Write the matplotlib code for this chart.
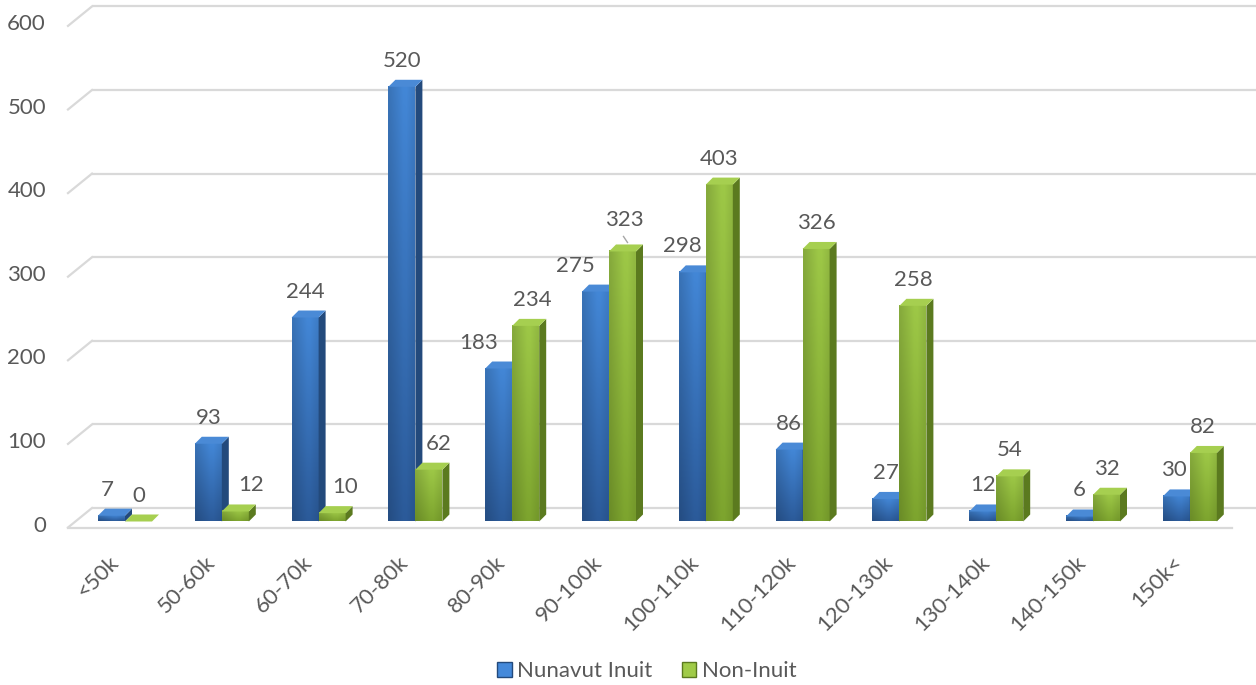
import numpy as np
import matplotlib
matplotlib.use("Agg")
import matplotlib.pyplot as plt
from matplotlib.patches import Polygon, Patch

# ========== 数据 ==========
categories = ["<50k", "50-60k", "60-70k", "70-80k", "80-90k", "90-100k",
              "100-110k", "110-120k", "120-130k", "130-140k", "140-150k", "150k<"]
nunavut_inuit = [7, 93, 244, 520, 183, 275, 298, 86, 27, 12, 6, 30]
non_inuit = [0, 12, 10, 62, 234, 323, 403, 326, 258, 54, 32, 82]
y_ticks = [0, 100, 200, 300, 400, 500, 600]

# ========== 样式 ==========
plt.rcParams['font.family'] = ['Lato', 'DejaVu Sans']
FS = 16
TEXT = "#595959"
GRID = "#D9D9D9"
BLUE = dict(light="#4489DA", dark="#2C5C9C", side="#234A7C", top="#4A8AD6")
GREEN = dict(light="#A0CB48", dark="#7FA72F", side="#5B7A1F", top="#A6CF50")

# 像素 -> 数据 换算 (画布 1256x685)
PX_CAT = 96.8          # 每组的像素宽度
PX_VAL = 0.836         # 每单位数值的像素
X0_PX, BASE_PX = 125, 521.5
W, H = 1256, 685

def px_dx(p):
    return p / PX_CAT

def px_dy(p):
    return p / PX_VAL

BAR_W = px_dx(27)
DEPTH_X, DEPTH_Y = px_dx(7), px_dy(7)

fig = plt.figure(figsize=(12.56, 6.85), dpi=100)
ax = fig.add_axes([0, 0, 1, 1])
ax.axis("off")

# ---- 背景网格 (后墙 + 左侧斜线) ----
back_dy, front_dy = px_dy(13.5), px_dy(-6)
x_front_left, x_back_left = px_dx(68 - X0_PX), px_dx(92 - X0_PX)
x_right = (W - X0_PX) / PX_CAT
for v in y_ticks:
    ax.plot([x_back_left, x_right], [v + back_dy, v + back_dy], color=GRID, lw=1.6, zorder=1,
            solid_capstyle="butt")
    ax.plot([x_front_left, x_back_left], [v + front_dy, v + back_dy], color=GRID, lw=1.6, zorder=1)
    ax.text(px_dx(46 - X0_PX), v + front_dy + px_dy(2), str(v), ha="right", va="center",
            fontsize=FS, color=TEXT)
# 地板前沿
ax.plot([x_front_left, px_dx(1232 - X0_PX)], [front_dy, front_dy], color=GRID, lw=1.6, zorder=1)


def draw_bar(x0, h, c):
    x1 = x0 + BAR_W
    # 正面: 竖向渐变
    grad = np.linspace(0, 1, 64).reshape(-1, 1)
    c1 = np.array(matplotlib.colors.to_rgb(c["light"]))
    c2 = np.array(matplotlib.colors.to_rgb(c["dark"]))
    img = c1 * (1 - grad[..., None]) + c2 * grad[..., None]
    img = np.repeat(img, 8, axis=1)
    # 横向高光
    hx = 1 - 0.12 * np.abs(np.linspace(-1, 1, 8) - 0.3)
    img = np.clip(img * hx[None, :, None], 0, 1)
    if h > 0:
        ax.imshow(img, extent=[x0, x1, 0, h], aspect="auto", origin="upper",
                  interpolation="bilinear", zorder=3)
    # 侧面
    ax.add_patch(Polygon([(x1, 0), (x1 + DEPTH_X, DEPTH_Y), (x1 + DEPTH_X, h + DEPTH_Y), (x1, h)],
                         closed=True, facecolor=c["side"], edgecolor="none", zorder=3))
    # 顶面
    ax.add_patch(Polygon([(x0, h), (x1, h), (x1 + DEPTH_X, h + DEPTH_Y), (x0 + DEPTH_X, h + DEPTH_Y)],
                         closed=True, facecolor=c["top"], edgecolor="none", zorder=3))


# 数据标签的微调 (像素)
nudge_blue = {0: (-4, 0), 4: (-20, 0), 5: (-20, 0), 6: (-10, 0), 11: (-2, 0)}
nudge_green = {1: (16, 0), 2: (13, 0), 3: (10, 0), 4: (7, 0), 5: (2, 5)}

for i, cat in enumerate(categories):
    for vals, col, side, nudges in ((nunavut_inuit, BLUE, -1, nudge_blue),
                                    (non_inuit, GREEN, 0, nudge_green)):
        v = vals[i]
        x0 = i + side * BAR_W
        draw_bar(x0, v, col)
        nx, ny = nudges.get(i, (0, 0))
        lx = x0 + BAR_W / 2 + px_dx(nx)
        ly = v + px_dy(26 + ny)
        ax.text(lx, ly, str(v), ha="center", va="center", fontsize=FS, color=TEXT, zorder=5)
        if ny > 0:
            ax.plot([lx - px_dx(1), lx + px_dx(3)], [v + px_dy(15), v + px_dy(9)],
                    color="#A6A6A6", lw=1, zorder=5)
    ax.text(i - px_dx(3), px_dy(521.5 - 552), cat, rotation=45, ha="right", va="top",
            fontsize=FS, color=TEXT)

ax.set_xlim(-X0_PX / PX_CAT, (W - X0_PX) / PX_CAT)
ax.set_ylim((BASE_PX - H) / PX_VAL, BASE_PX / PX_VAL)

handles = [Patch(facecolor=BLUE["light"], edgecolor=BLUE["side"], label="Nunavut Inuit"),
           Patch(facecolor=GREEN["light"], edgecolor=GREEN["side"], label="Non-Inuit")]
fig.legend(handles=handles, loc="center", bbox_to_anchor=(0.515, 1 - 671 / H), ncol=2,
           frameon=False, fontsize=FS, labelcolor=TEXT, handlelength=0.65, handleheight=0.65,
           handletextpad=0.25, columnspacing=1.3)

fig.savefig("out.png", dpi=100)
